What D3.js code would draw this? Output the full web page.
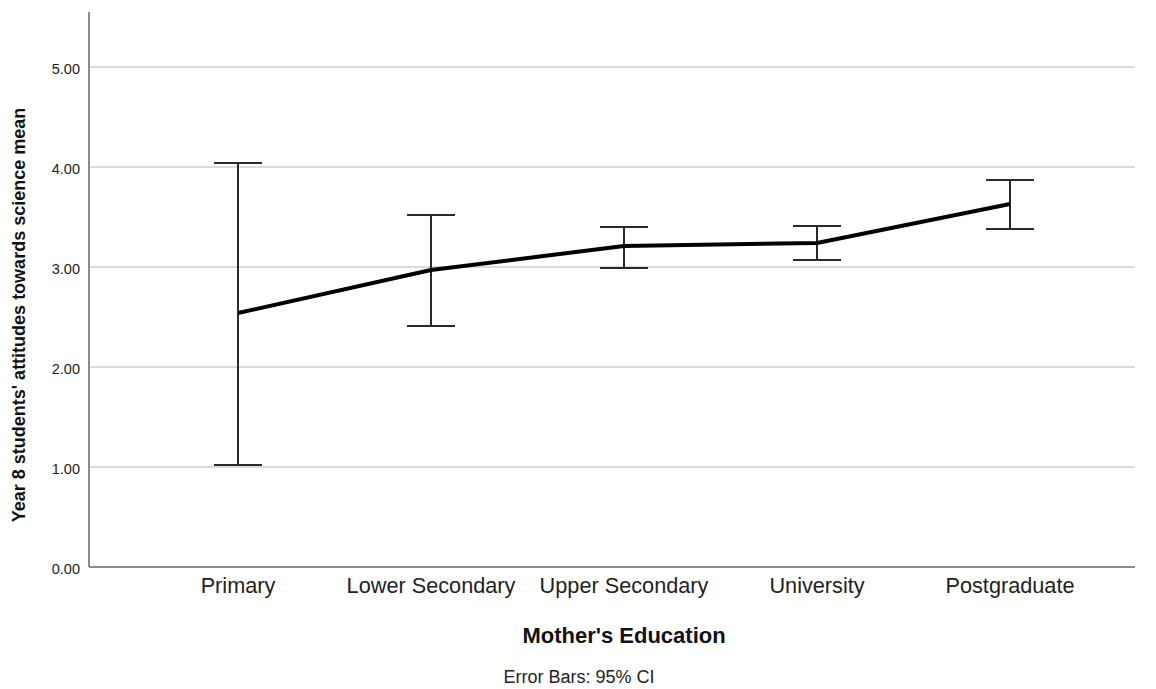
<!DOCTYPE html>
<html>
<head>
<meta charset="utf-8">
<script src="https://cdn.jsdelivr.net/npm/d3@7"></script>
<style>
  html, body { margin: 0; padding: 0; background: #fff; }
  svg { display: block; font-family: "Liberation Sans", Arial, sans-serif; }
</style>
</head>
<body>
<svg id="chart" width="1156" height="689"></svg>
<script>
const categories = ["Primary", "Lower Secondary", "Upper Secondary", "University", "Postgraduate"];
const means = [2.54, 2.97, 3.21, 3.24, 3.63];
const ciUpper = [4.04, 3.52, 3.40, 3.41, 3.87];
const ciLower = [1.02, 2.41, 2.99, 3.07, 3.38];
const yTicks = [0, 1, 2, 3, 4, 5];

const svg = d3.select("#chart");
const axisLeftX = 89, axisRightX = 1135, axisTopY = 12, axisBottomY = 567;

const x = d3.scaleBand().domain(categories).range([141.5, 1106.5]).padding(0);
const cx = c => x(c) + x.bandwidth() / 2;
const y = d3.scaleLinear().domain([0, 5.55]).range([axisBottomY, axisTopY]);

// gridlines
svg.append("g").selectAll("line").data(yTicks.filter(d => d > 0)).join("line")
  .attr("x1", axisLeftX).attr("x2", axisRightX)
  .attr("y1", d => y(d)).attr("y2", d => y(d))
  .attr("stroke", "#cfcfcf").attr("stroke-width", 1.5);

// y axis
const yAxis = d3.axisLeft(y).tickValues(yTicks).tickFormat(d3.format(".2f")).tickSize(0).tickPadding(9);
const gy = svg.append("g").attr("transform", `translate(${axisLeftX},0)`).call(yAxis);
gy.select(".domain").remove();
gy.selectAll("text").attr("font-size", 14.5).attr("fill", "#222").attr("dy", "0.45em")
  .attr("font-family", "'Liberation Sans', Arial, sans-serif");
svg.append("line").attr("x1", axisLeftX).attr("x2", axisLeftX)
  .attr("y1", axisTopY).attr("y2", axisBottomY).attr("stroke", "#8a8a8a").attr("stroke-width", 2);

// x axis
const xAxis = d3.axisBottom(x).tickSize(0).tickPadding(11);
const gx = svg.append("g").attr("transform", `translate(0,${axisBottomY})`).call(xAxis);
gx.select(".domain").remove();
gx.selectAll("text").attr("font-size", 21.7).attr("fill", "#222").attr("dy", "0.71em")
  .attr("font-family", "'Liberation Sans', Arial, sans-serif");
svg.append("line").attr("x1", axisLeftX).attr("x2", axisRightX)
  .attr("y1", axisBottomY).attr("y2", axisBottomY).attr("stroke", "#8a8a8a").attr("stroke-width", 2);

// error bars
const capHalf = 24;
const eb = svg.append("g").attr("stroke", "#2a2a2a").attr("stroke-width", 2);
categories.forEach((c, i) => {
  eb.append("line").attr("x1", cx(c)).attr("x2", cx(c)).attr("y1", y(ciUpper[i])).attr("y2", y(ciLower[i]));
  eb.append("line").attr("x1", cx(c) - capHalf).attr("x2", cx(c) + capHalf).attr("y1", y(ciUpper[i])).attr("y2", y(ciUpper[i]));
  eb.append("line").attr("x1", cx(c) - capHalf).attr("x2", cx(c) + capHalf).attr("y1", y(ciLower[i])).attr("y2", y(ciLower[i]));
});

// mean line
const line = d3.line().x((d, i) => cx(categories[i])).y(d => y(d));
svg.append("path").datum(means).attr("d", line)
  .attr("fill", "none").attr("stroke", "#000").attr("stroke-width", 4).attr("stroke-linejoin", "round");

// titles
svg.append("text").attr("x", 624).attr("y", 643).attr("text-anchor", "middle")
  .attr("font-size", 22).attr("font-weight", "bold").attr("fill", "#111").text("Mother's Education");
svg.append("text").attr("x", 579).attr("y", 683).attr("text-anchor", "middle")
  .attr("font-size", 18).attr("fill", "#222").text("Error Bars: 95% CI");
svg.append("text").attr("transform", "translate(25,315) rotate(-90)").attr("text-anchor", "middle")
  .attr("font-size", 18).attr("font-weight", "bold").attr("fill", "#111")
  .text("Year 8 students' attitudes towards science mean");
</script>
</body>
</html>
